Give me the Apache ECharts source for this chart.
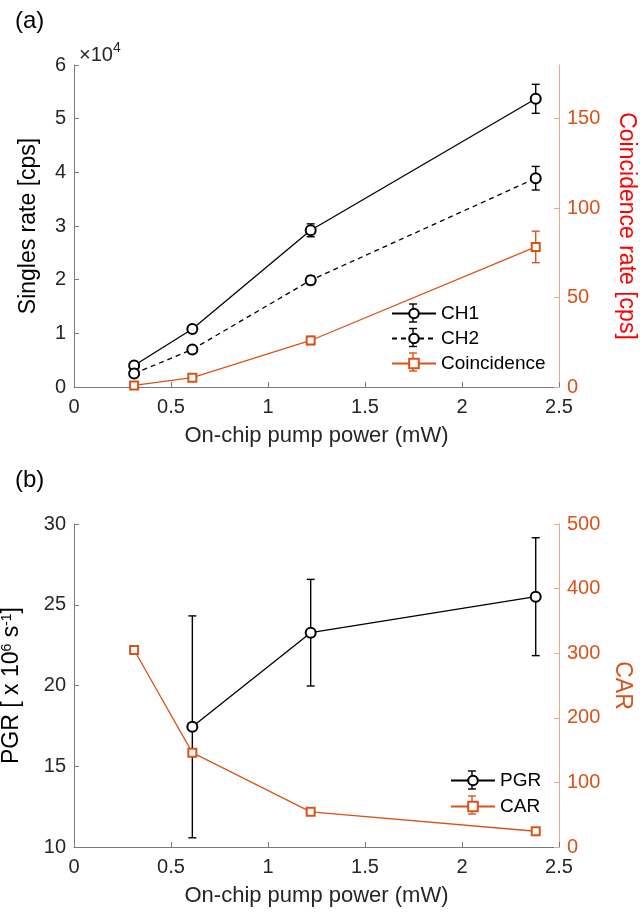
<!DOCTYPE html>
<html><head><meta charset="utf-8">
<script src="https://cdn.jsdelivr.net/npm/echarts@6/dist/echarts.min.js"></script>
<style>html,body{margin:0;padding:0;background:#fff}#c{width:640px;height:915px}</style>
</head><body><div id="c"></div>
<script>
// ---- data ----
const power = [0.31, 0.61, 1.22, 2.38];
const ch1 = [0.40, 1.08, 2.92, 5.37];      // x 10^4 cps
const ch1Err = [0.05, 0.06, 0.12, 0.27];
const ch2 = [0.25, 0.70, 1.99, 3.89];
const ch2Err = [0.04, 0.04, 0.08, 0.22];
const coinc = [0.9, 5.2, 26, 78.3];        // cps
const coincErr = [0.6, 1.0, 2.3, 8.8];
const pgrPower = [0.61, 1.22, 2.38];
const pgr = [17.44, 23.27, 25.5];
const pgrErr = [6.87, 3.3, 3.65];
const car = [305, 146, 54.4, 24.4];
const carErr = [4, 3, 2, 2];
const singlesTicks = [0, 1, 2, 3, 4, 5, 6];
const coincTicks = [0, 50, 100, 150];
const carTicks = [0, 100, 200, 300, 400, 500];
const pgrTicks = [10, 15, 20, 25, 30];

const FONT = 'Liberation Sans, Arial, sans-serif';
const ORANGE = '#D95319';
const AX = '#262626';

const zip = (a, b, c) => a.map((v, i) => c ? [v, b[i], c[i]] : [v, b[i]]);

function errSeries(name, xs, ys, es, color, xi, yi) {
  return {
    type: 'custom', name: name + '_err', xAxisIndex: xi, yAxisIndex: yi, z: 1,
    data: zip(xs, ys, es),
    renderItem: function (params, api) {
      const x = api.value(0), y = api.value(1), e = api.value(2);
      const t = api.coord([x, y + e]), b = api.coord([x, y - e]);
      const w = 4;
      const st = { stroke: color, lineWidth: 1.4, fill: null };
      return { type: 'group', children: [
        { type: 'line', shape: { x1: t[0], y1: t[1], x2: b[0], y2: b[1] }, style: st },
        { type: 'line', shape: { x1: t[0] - w, y1: t[1], x2: t[0] + w, y2: t[1] }, style: st },
        { type: 'line', shape: { x1: b[0] - w, y1: b[1], x2: b[0] + w, y2: b[1] }, style: st }
      ]};
    }
  };
}

function lineSeries(name, xs, ys, color, xi, yi, opts) {
  return Object.assign({
    type: 'line', name: name, xAxisIndex: xi, yAxisIndex: yi, z: 3,
    data: zip(xs, ys), symbol: 'emptyCircle', symbolSize: 10,
    itemStyle: { color: color, borderWidth: 1.3 },
    lineStyle: { color: color, width: 1.3 }
  }, opts || {});
}

function xAxisDef(gi) {
  return {
    type: 'value', gridIndex: gi, min: 0, max: 2.5, interval: 0.5,
    name: 'On-chip pump power (mW)', nameLocation: 'middle', nameGap: 38,
    nameTextStyle: { fontFamily: FONT, fontSize: 22, color: AX },
    axisLine: { lineStyle: { color: '#7a7a7a', width: 1 } },
    axisTick: { inside: true, length: 5, lineStyle: { color: '#7a7a7a' } },
    axisLabel: { fontFamily: FONT, fontSize: 20, color: AX, margin: 10 },
    splitLine: { show: false }
  };
}

function yAxisDef(gi, pos, min, max, interval, ticks, name, nameColor, labColor, lineColor, nameGap, nameRotate, rich) {
  const a = {
    type: 'value', gridIndex: gi, position: pos, min: min, max: max, interval: interval,
    name: name, nameLocation: 'middle', nameGap: nameGap,
    nameTextStyle: { fontFamily: FONT, fontSize: 23, color: nameColor },
    axisLine: { show: true, lineStyle: { color: lineColor, width: 1 } },
    axisTick: { show: true, inside: true, length: 5, lineStyle: { color: lineColor }, customValues: ticks },
    axisLabel: { fontFamily: FONT, fontSize: 20, color: labColor, margin: 8, customValues: ticks },
    splitLine: { show: false }
  };
  if (nameRotate !== undefined) a.nameRotate = nameRotate;
  if (rich) a.nameTextStyle.rich = rich;
  return a;
}

// legend error-bar glyphs (decoration next to legend lines)
function legendBar(cx, cy, color) {
  const st = { stroke: color, lineWidth: 1.4 };
  return { type: 'group', silent: true, z: 100, children: [
    { type: 'line', shape: { x1: cx, y1: cy - 9, x2: cx, y2: cy + 9 }, style: st },
    { type: 'line', shape: { x1: cx - 4, y1: cy - 9, x2: cx + 4, y2: cy - 9 }, style: st },
    { type: 'line', shape: { x1: cx - 4, y1: cy + 9, x2: cx + 4, y2: cy + 9 }, style: st }
  ]};
}

const chart = echarts.init(document.getElementById('c'), null, { renderer: 'canvas' });
chart.setOption({
  backgroundColor: '#fff',
  animation: false,
  textStyle: { fontFamily: FONT },
  title: [
    { text: '(a)', left: 10, top: 4, textStyle: { fontFamily: FONT, fontSize: 24, fontWeight: 'normal', color: '#000' } },
    { text: '(b)', left: 10, top: 463, textStyle: { fontFamily: FONT, fontSize: 24, fontWeight: 'normal', color: '#000' } },
    { text: '{a|×10}{s|4}', left: 74, top: 36, textStyle: { fontWeight: 'normal', rich: {
      a: { fontFamily: FONT, fontSize: 20, fontWeight: 'normal', color: AX, verticalAlign: 'bottom' },
      s: { fontFamily: FONT, fontSize: 14, fontWeight: 'normal', color: AX, verticalAlign: 'top', padding: [0, 0, 10, 0] } } } }
  ],
  grid: [
    { left: 74, right: 81, top: 65, height: 322, outerBoundsMode: 'none', containLabel: false },
    { left: 74, right: 81, top: 524, height: 323, outerBoundsMode: 'none', containLabel: false }
  ],
  legend: [
    { data: ['CH1', 'CH2', 'Coincidence'], orient: 'vertical', left: 386, top: 299, itemWidth: 44, itemHeight: 12, itemGap: 6,
      textStyle: { fontFamily: FONT, fontSize: 19, color: '#000' } },
    { data: ['PGR', 'CAR'], orient: 'vertical', left: 445, top: 766, itemWidth: 44, itemHeight: 12, itemGap: 7,
      textStyle: { fontFamily: FONT, fontSize: 19, color: '#000' } }
  ],
  graphic: [
    legendBar(413, 313, '#000'), legendBar(413, 337.5, '#000'), legendBar(413, 362, ORANGE),
    legendBar(472, 780, '#000'), legendBar(472, 805, ORANGE)
  ],
  xAxis: [xAxisDef(0), xAxisDef(1)],
  yAxis: [
    yAxisDef(0, 'left', 0, 6, 1, singlesTicks, 'Singles rate [cps]', '#000', AX, '#7a7a7a', 34),
    yAxisDef(0, 'right', 0, 180, 50, coincTicks, 'Coincidence rate [cps]', '#FF0000', ORANGE, '#EFA98A', 56, -90),
    yAxisDef(1, 'left', 10, 30, 5, pgrTicks, '{a|PGR [ x 10}{s|6}{a| s}{s|-1}{a|]}', '#000', AX, '#7a7a7a', 51, undefined,
      { a: { fontFamily: FONT, fontSize: 23, color: '#000' }, s: { fontFamily: FONT, fontSize: 14, color: '#000', verticalAlign: 'top' } }),
    yAxisDef(1, 'right', 0, 500, 100, carTicks, 'CAR', ORANGE, ORANGE, '#EFA98A', 50, -90)
  ],
  series: [
    errSeries('CH1', power, ch1, ch1Err, '#000', 0, 0),
    lineSeries('CH1', power, ch1, '#000', 0, 0),
    errSeries('CH2', power, ch2, ch2Err, '#000', 0, 0),
    lineSeries('CH2', power, ch2, '#000', 0, 0, { lineStyle: { color: '#000', width: 1.3, type: [5, 4] } }),
    errSeries('Coincidence', power, coinc, coincErr, ORANGE, 0, 1),
    lineSeries('Coincidence', power, coinc, ORANGE, 0, 1, { symbol: 'emptyRect', symbolSize: 8 }),
    errSeries('PGR', pgrPower, pgr, pgrErr, '#000', 1, 2),
    lineSeries('PGR', pgrPower, pgr, '#000', 1, 2),
    errSeries('CAR', power, car, carErr, ORANGE, 1, 3),
    lineSeries('CAR', power, car, ORANGE, 1, 3, { symbol: 'emptyRect', symbolSize: 8 })
  ]
});
</script>
</body></html>
